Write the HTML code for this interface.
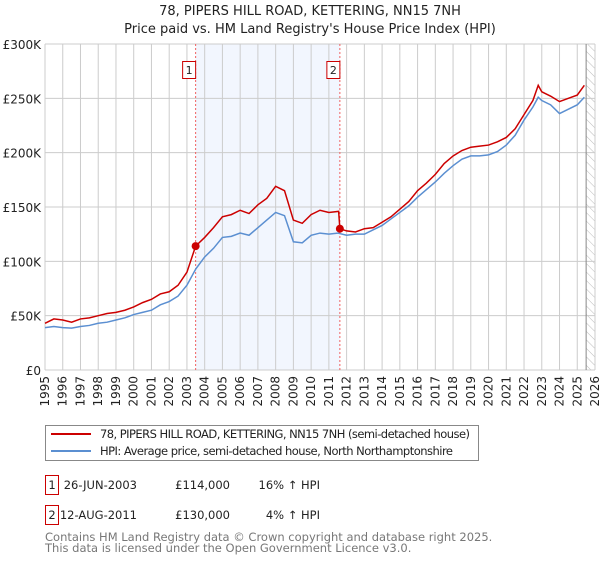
<!DOCTYPE html>
<html><head><meta charset="utf-8"><style>
body{margin:0;background:#fff;font-family:"DejaVu Sans","Liberation Sans",sans-serif;}
svg text{font-family:"DejaVu Sans","Liberation Sans",sans-serif;}
</style></head><body>
<svg id="chart" width="600" height="560" xmlns="http://www.w3.org/2000/svg">
<text x="310" y="15" text-anchor="middle" font-size="13" fill="#222">78, PIPERS HILL ROAD, KETTERING, NN15 7NH</text>
<text x="310" y="33" text-anchor="middle" font-size="13" fill="#222">Price paid vs. HM Land Registry's House Price Index (HPI)</text>
<defs><pattern id="hatch" width="6" height="6" patternUnits="userSpaceOnUse" patternTransform="rotate(-45)"><line x1="0" y1="0" x2="0" y2="6" stroke="#bbb" stroke-width="1"/></pattern></defs>
<g id="grid"></g>
<g id="marks"></g>
<g id="axes"></g>
<g>
<rect x="45.5" y="425.5" width="433" height="35" fill="#fff" stroke="#888"/>
<line x1="51" y1="434" x2="91" y2="434" stroke="#cc0000" stroke-width="2"/>
<text x="100" y="438" font-size="11.5" fill="#222" textLength="370">78, PIPERS HILL ROAD, KETTERING, NN15 7NH (semi-detached house)</text>
<line x1="51" y1="451" x2="91" y2="451" stroke="#5b8fd1" stroke-width="2"/>
<text x="100" y="455" font-size="11.5" fill="#222" textLength="353">HPI: Average price, semi-detached house, North Northamptonshire</text>
</g>
<g font-size="11.5" fill="#222">
<rect x="45.5" y="475.5" width="13" height="19" fill="#fff" stroke="#cc0000"/>
<text x="52" y="489" text-anchor="middle">1</text>
<text x="137" y="489" text-anchor="end">26-JUN-2003</text>
<text x="230" y="489" text-anchor="end">£114,000</text>
<text x="320" y="489" text-anchor="end">16% ↑ HPI</text>
<rect x="45.5" y="505.5" width="13" height="19" fill="#fff" stroke="#cc0000"/>
<text x="52" y="519" text-anchor="middle">2</text>
<text x="137" y="519" text-anchor="end">12-AUG-2011</text>
<text x="230" y="519" text-anchor="end">£130,000</text>
<text x="320" y="519" text-anchor="end">4% ↑ HPI</text>
</g>
<text x="45" y="541" font-size="11.5" fill="#777">Contains HM Land Registry data © Crown copyright and database right 2025.</text>
<text x="45" y="552" font-size="11.5" fill="#777">This data is licensed under the Open Government Licence v3.0.</text>
</svg>
<script>
const hpiYears=[1995,1995.5,1996,1996.5,1997,1997.5,1998,1998.5,1999,1999.5,2000,2000.5,2001,2001.5,2002,2002.5,2003,2003.5,2004,2004.5,2005,2005.5,2006,2006.5,2007,2007.5,2008,2008.5,2009,2009.5,2010,2010.5,2011,2011.5,2012,2012.5,2013,2013.5,2014,2014.5,2015,2015.5,2016,2016.5,2017,2017.5,2018,2018.5,2019,2019.5,2020,2020.5,2021,2021.5,2022,2022.5,2022.8,2023,2023.5,2024,2024.5,2025,2025.4];
const hpiValues=[39,40,39,38.5,40,41,43,44,46,48,51,53,55,60,63,68,78,93,104,112,122,123,126,124,131,138,145,142,118,117,124,126,125,126,124,125,125,129,133,139,145,151,159,166,173,181,188,194,197,197,198,201,207,216,230,242,251,248,244,236,240,244,251];
const priceYears=[1995,1995.5,1996,1996.5,1997,1997.5,1998,1998.5,1999,1999.5,2000,2000.5,2001,2001.5,2002,2002.5,2003,2003.49,2004,2004.5,2005,2005.5,2006,2006.5,2007,2007.5,2008,2008.5,2009,2009.5,2010,2010.5,2011,2011.55,2011.62,2012,2012.5,2013,2013.5,2014,2014.5,2015,2015.5,2016,2016.5,2017,2017.5,2018,2018.5,2019,2019.5,2020,2020.5,2021,2021.5,2022,2022.5,2022.8,2023,2023.5,2024,2024.5,2025,2025.4];
const priceValues=[43,47,46,44,47,48,50,52,53,55,58,62,65,70,72,78,90,114,122,131,141,143,147,144,152,158,169,165,138,135,143,147,145,146,130,128,127,130,131,136,141,148,155,165,172,180,190,197,202,205,206,207,210,214,222,235,248,262,256,252,247,250,253,262];
const sales=[{year:2003.49,value:114,label:"1"},{year:2011.62,value:130,label:"2"}];
const yTicks=[0,50,100,150,200,250,300];
const yTickLabels=["£0","£50K","£100K","£150K","£200K","£250K","£300K"];
const xTicks=[];for(let y=1995;y<=2026;y++)xTicks.push(y);

const L=45,R=595,T=44,B=370;
const x=v=>L+(v-1995)*(R-L)/31;
const y=v=>B-v*(B-T)/300;
const NS="http://www.w3.org/2000/svg";
function mk(tag,attrs,parent){const e=document.createElementNS(NS,tag);for(const k in attrs)e.setAttribute(k,attrs[k]);parent.appendChild(e);return e;}
const grid=document.getElementById('grid'),marks=document.getElementById('marks'),axes=document.getElementById('axes');
const shade=mk('rect',{x:x(sales[0].year),y:T,width:x(sales[1].year)-x(sales[0].year),height:B-T,fill:'#eef3fd',opacity:0.75},grid);


const hatch=mk('rect',{x:x(2025.5),y:T,width:R-x(2025.5),height:B-T,fill:'url(#hatch)'},grid);


xTicks.forEach(t=>{const l=mk('line',{x1:x(t),x2:x(t),y1:T,y2:B,stroke:'#ccc','stroke-width':1},grid);


const tx=mk('text',{x:0,y:0,'font-size':12,fill:'#222','text-anchor':'end',transform:`translate(${x(t)+4},${B+6}) rotate(-90)`},axes);
tx.textContent=t;

});
yTicks.forEach((t,i)=>{const l=mk('line',{x1:L,x2:R,y1:y(t),y2:y(t),stroke:'#ccc','stroke-width':1},grid);


const tx=mk('text',{x:L-4,y:y(t)+5,'font-size':12,fill:'#222','text-anchor':'end'},axes);
tx.textContent=yTickLabels[i];

});
const nowLine=mk('line',{x1:x(2025.5),x2:x(2025.5),y1:T,y2:B,stroke:'#888','stroke-width':1},grid);


sales.forEach(s=>{const l=mk('line',{x1:x(s.year),x2:x(s.year),y1:T,y2:B,stroke:'#f06060','stroke-width':1,'stroke-dasharray':'2,2'},marks);


const bx=mk('rect',{x:x(s.year)-13,y:61.5,width:13,height:17,fill:'#fff',stroke:'#cc0000'},marks);


const tx=mk('text',{x:x(s.year)-6.5,y:74,'font-size':11,fill:'#222','text-anchor':'middle'},marks);
tx.textContent=s.label;

});
const hp=mk('polyline',{points:hpiYears.map((t,i)=>x(t)+','+y(hpiValues[i])).join(' '),fill:'none',stroke:'#5b8fd1','stroke-width':1.5},marks);


const pp=mk('polyline',{points:priceYears.map((t,i)=>x(t)+','+y(priceValues[i])).join(' '),fill:'none',stroke:'#cc0000','stroke-width':1.5},marks);


sales.forEach(s=>{const c=mk('circle',{cx:x(s.year),cy:y(s.value),r:4,fill:'#cc0000'},marks);

});
</script>
</body></html>
